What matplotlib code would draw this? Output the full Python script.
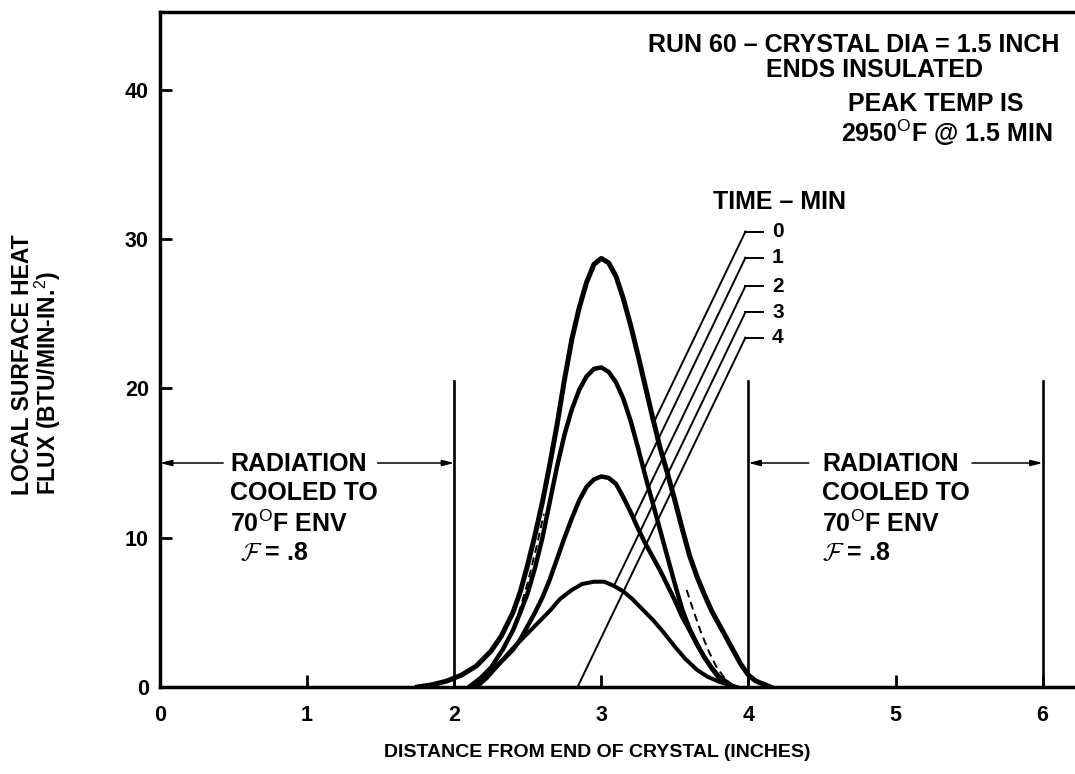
import numpy as np
import matplotlib
matplotlib.use("Agg")
import matplotlib.pyplot as plt

plt.rcParams['font.family'] = ['Liberation Sans', 'DejaVu Sans']
plt.rcParams['mathtext.fontset'] = 'custom'
plt.rcParams['mathtext.rm'] = 'Liberation Sans'

# local surface heat flux vs distance, one curve per time (min)
x_t0 = [1.75, 1.85, 1.95, 2.05, 2.15, 2.25, 2.32, 2.40, 2.45, 2.50, 2.55, 2.60,
        2.65, 2.70, 2.75, 2.80, 2.85, 2.90, 2.95, 3.00, 3.05, 3.10, 3.15, 3.20,
        3.25, 3.30, 3.35, 3.40, 3.45, 3.50, 3.55, 3.60, 3.65, 3.70, 3.75, 3.80,
        3.85, 3.90, 3.95, 4.00, 4.05, 4.15]
q_t0 = [0.0, 0.15, 0.4, 0.8, 1.4, 2.4, 3.4, 5.0, 6.4, 8.2, 10.2, 12.4,
        14.9, 17.6, 20.6, 23.3, 25.4, 27.1, 28.3, 28.7, 28.4, 27.5, 26.0, 24.2,
        22.2, 20.1, 18.0, 16.0, 14.3, 12.5, 10.6, 8.8, 7.4, 6.2, 5.1, 4.2,
        3.3, 2.4, 1.5, 0.8, 0.4, 0.0]

x_t1 = [2.10, 2.18, 2.25, 2.33, 2.40, 2.45, 2.50, 2.55, 2.60, 2.65, 2.70, 2.75,
        2.80, 2.85, 2.90, 2.95, 3.00, 3.05, 3.10, 3.15, 3.20, 3.25, 3.30, 3.35,
        3.40, 3.45, 3.50, 3.55, 3.60, 3.65, 3.70, 3.75, 3.80, 3.88]
q_t1 = [0.0, 0.6, 1.3, 2.5, 3.8, 5.0, 6.3, 8.0, 10.0, 12.4, 14.8, 16.9,
        18.6, 19.9, 20.8, 21.3, 21.4, 21.1, 20.4, 19.3, 17.8, 16.0, 14.1, 12.3,
        10.5, 8.7, 6.9, 5.2, 3.9, 2.9, 2.0, 1.25, 0.6, 0.0]

x_t2 = [2.15, 2.22, 2.30, 2.40, 2.45, 2.50, 2.55, 2.60, 2.65, 2.70, 2.75, 2.80,
        2.85, 2.90, 2.95, 3.00, 3.05, 3.10, 3.15, 3.20, 3.25, 3.30, 3.35, 3.40,
        3.45, 3.50, 3.55, 3.60, 3.65, 3.70, 3.75, 3.80, 3.90]
q_t2 = [0.0, 0.6, 1.5, 2.5, 3.2, 4.1, 5.0, 6.0, 7.2, 8.6, 10.0, 11.3,
        12.5, 13.4, 13.9, 14.1, 14.0, 13.6, 12.7, 11.7, 10.6, 9.6, 8.7, 7.8,
        6.8, 5.8, 4.7, 3.8, 2.85, 2.0, 1.3, 0.7, 0.0]

x_t3 = [2.15, 2.24, 2.31, 2.40, 2.50, 2.58, 2.65, 2.72, 2.80, 2.87, 2.95, 3.02,
        3.08, 3.15, 3.21, 3.28, 3.35, 3.42, 3.50, 3.57, 3.65, 3.72, 3.80, 3.92]
q_t3 = [0.0, 0.9, 1.6, 2.6, 3.6, 4.4, 5.1, 5.9, 6.5, 6.9, 7.05, 7.05,
        6.8, 6.4, 5.9, 5.2, 4.5, 3.7, 2.7, 1.9, 1.15, 0.7, 0.35, 0.0]

# dashed tails running between the 0 and 1 min curves
x_dash = [2.12, 2.20, 2.28, 2.36, 2.44, 2.50, 2.56, 2.61, np.nan,
          3.58, 3.63, 3.68, 3.73, 3.78, 3.83, 3.90]
q_dash = [0.0, 0.6, 1.6, 3.0, 5.0, 7.0, 9.4, 11.6, np.nan,
          6.5, 5.0, 3.6, 2.4, 1.4, 0.7, 0.0]

times = ['0', '1', '2', '3', '4']
time_label_y = [30.5, 28.75, 26.85, 25.1, 23.4]
leader_slope = 20.5
zone_edges = [2, 4, 6]

fig = plt.figure(figsize=(10.75, 7.74), dpi=100)
ax = fig.add_axes([0.1488, 0.1124, 0.8512, 0.8721])
ax.set_xlim(0, 6.22)
ax.set_ylim(0, 45.2)

ax.plot(x_dash, q_dash, color='black', lw=1.4, ls=(0, (4, 2.5)))
ax.plot(x_t0, q_t0, color='black', lw=3.6, solid_joinstyle='round')
ax.plot(x_t1, q_t1, color='black', lw=3.2, solid_joinstyle='round')
ax.plot(x_t2, q_t2, color='black', lw=3.2, solid_joinstyle='round')
ax.plot(x_t3, q_t3, color='black', lw=2.9, solid_joinstyle='round')

for xe in zone_edges:
    ax.plot([xe, xe], [0, 20.5], color='black', lw=1.9)

# leader lines from the time labels down to their curves
curves = [(x_t0, q_t0), (x_t1, q_t1), (x_t2, q_t2), (x_t3, q_t3), None]
x_start = 3.98
for lab, yl, cur in zip(times, time_label_y, curves):
    ax.plot([x_start, 4.10], [yl, yl], color='black', lw=1.4)
    xs = np.linspace(x_start, 2.0, 2000)
    lead = yl - leader_slope * (x_start - xs)
    if cur is None:
        target = np.zeros_like(xs)
    else:
        target = np.interp(xs, cur[0], cur[1])
    hit = np.argmax(lead <= target)
    ax.plot([x_start, xs[hit]], [yl, lead[hit]], color='black', lw=1.4)
    ax.text(4.20, yl, lab, fontsize=15, fontweight='bold', ha='center', va='center')

# multi-line texts are placed by the baseline of their last line
txt = dict(fontsize=18, fontweight='bold', va='baseline')
ax.text(3.76, 32.0, 'TIME – MIN', **txt)
ax.text(3.315, 40.87, 'RUN 60 – CRYSTAL DIA = 1.5 INCH\n      ENDS INSULATED',
        multialignment='center', linespacing=1.05, **txt)
ax.text(4.63, 36.5, ' PEAK TEMP IS\n2950$^{\\mathrm{O}}$F @ 1.5 MIN',
        linespacing=1.05, **txt)

arrow = dict(arrowstyle='-|>,head_length=0.7,head_width=0.18', color='black', lw=1.1,
             shrinkA=0, shrinkB=0)
for x0, (xa, xb), (xc, xd), fx in [(0.476, (0.43, 0.0), (1.48, 2.0), 0.544),
                                   (4.50, (4.41, 4.0), (5.52, 6.0), 4.50)]:
    ax.text(x0, 10.4, 'RADIATION\nCOOLED TO\n70$^{\\mathrm{O}}$F ENV',
            linespacing=1.25, **txt)
    ax.text(fx, 8.52, '$\\mathcal{F}$ = .8', math_fontfamily='cm', **txt)
    ax.annotate('', xy=(xb, 15.0), xytext=(xa, 15.0), arrowprops=arrow)
    ax.annotate('', xy=(xd, 15.0), xytext=(xc, 15.0), arrowprops=arrow)

ax.spines['right'].set_visible(False)
for s in ['left', 'bottom', 'top']:
    ax.spines[s].set_linewidth(2.5)
ax.set_xticks(range(7))
ax.set_yticks([0, 10, 20, 30, 40])
ax.tick_params(direction='in', length=8.5, width=2.0, labelsize=15.5)
ax.tick_params(axis='x', pad=13)
ax.tick_params(axis='y', pad=8)
for lbl in ax.get_xticklabels() + ax.get_yticklabels():
    lbl.set_fontweight('bold')

fig.text(0.5553, 0.0284, 'DISTANCE FROM END OF CRYSTAL (INCHES)', fontsize=14,
         fontweight='bold', ha='center', va='center')
fig.text(0.0205, 0.3605, 'LOCAL SURFACE HEAT', rotation=90, fontsize=16.5,
         fontweight='bold', ha='center', va='bottom')
fig.text(0.0445, 0.3605, 'FLUX (BTU/MIN-IN.$^{2}$)', rotation=90, fontsize=16.5,
         fontweight='bold', ha='center', va='bottom')

fig.savefig('out.png', dpi=100)
